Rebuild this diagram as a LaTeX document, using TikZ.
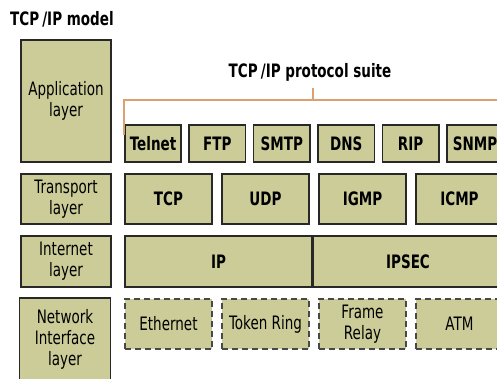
\documentclass[tikz,border=0pt]{standalone}
\usepackage{fontspec}
\setmainfont{DejaVu Sans}[FakeStretch=0.73]
\definecolor{khaki}{RGB}{204,204,153}
\definecolor{rim}{RGB}{40,40,40}
\definecolor{bracecol}{RGB}{220,160,115}

\begin{document}
\begin{tikzpicture}[x=1pt,y=-1pt,
        layerbox/.style={draw=rim, line width=1.6pt, fill=khaki, align=center, inner sep=0pt,
            font=\fontsize{18.5}{21}\selectfont},
        protobox/.style={layerbox, font=\fontsize{18.5}{21}\selectfont\bfseries},
        linkbox/.style={layerbox, draw=rim!85, dash pattern=on 6pt off 4pt},
        heading/.style={inner sep=0pt, font=\fontsize{18.5}{21}\selectfont\bfseries}]
             \useasboundingbox (0,0) rectangle (497,379);

             \node[heading, anchor=base west] (model) at (10,26) {TCP\,/IP model};
             \node[heading, anchor=base] (suite) at (310,78) {TCP\,/IP protocol suite};

             \node[layerbox, minimum width=90pt, minimum height=122.5pt] (app) at (66,101) {Application\\layer};
             \node[layerbox, minimum width=90pt, minimum height=50.5pt] (trans) at (66,199) {Transport\\layer};
             \node[layerbox, minimum width=90pt, minimum height=51.5pt] (inet) at (66,261.5) {Internet\\layer};
             \node[layerbox, minimum width=91pt, minimum height=82pt] (netif) at (65,339) {Network\\Interface\\layer};

             \foreach \name [count=\i from 0] in {Telnet,FTP,SMTP,DNS,RIP,SNMP}
                 \node[protobox, minimum width=56.5pt, minimum height=37.5pt] (\name) at (153+64.4*\i,143.5) {\name};

             \foreach \name [count=\i from 0] in {TCP,UDP,IGMP,ICMP}
                 \node[protobox, minimum width=87.5pt, minimum height=50.5pt] (\name) at (168.5+97*\i,199) {\name};

             \node[protobox, minimum width=187.5pt, minimum height=51.5pt] (IP) at (218.5,261.5) {IP};
             \node[protobox, minimum width=190pt, minimum height=51.5pt] (IPSEC) at (408,261.5) {IPSEC};

             \foreach \name/\txt [count=\i from 0] in {eth/Ethernet, ring/Token Ring, frame/{Frame\\Relay}, atm/ATM}
                 \node[linkbox, minimum width=87.5pt, minimum height=50.5pt] (\name) at (168.5+97*\i,324) {\txt};

             \coordinate (braceleft) at ([yshift=-11pt]Telnet.north west);
             \coordinate (bracetop) at (313,100);
             \coordinate (braceright) at (505,100);
             \draw[bracecol, line width=1.5pt] (braceleft) |- (braceright);
             \draw[bracecol, line width=1.5pt] (bracetop) -- ++(0,-12);
         \end{tikzpicture}
\end{document}
